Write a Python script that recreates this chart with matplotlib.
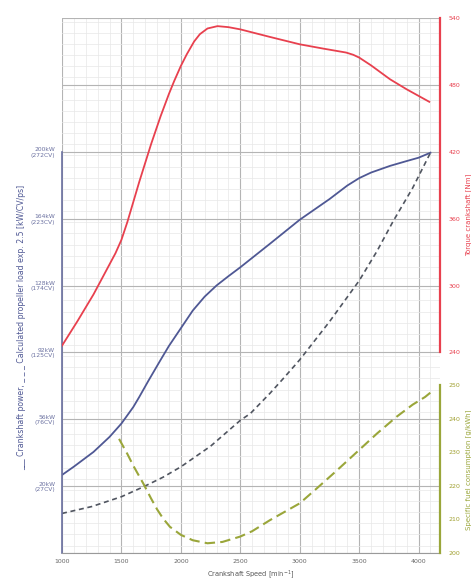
import numpy as np
import matplotlib
matplotlib.use("Agg")
import matplotlib.pyplot as plt
from matplotlib.ticker import MultipleLocator

# crankshaft power [kW]
rpm_power = [1000, 1100, 1265, 1400, 1500, 1600, 1650, 1725, 1830, 1900, 2000, 2100, 2200, 2300, 2400,
             2500, 2750, 3000, 3250, 3400, 3500, 3600, 3760, 3900, 4000, 4100]
power_kw = [26, 30.5, 38.4, 46.5, 53.7, 62.6, 68, 76.5, 88, 95.5, 105, 114.5, 122, 128, 133,
            137.8, 150.5, 163.4, 174.5, 181.8, 185.8, 188.8, 192.4, 195, 196.8, 199.5]

# propeller load exp 2.5 [kW]
rpm_prop = [1000, 1250, 1500, 1684, 1850, 2000, 2250, 2500, 2585, 2750, 2860, 3000, 3250, 3500, 3650, 3785, 3950, 4100]
prop_kw = [5.3, 9.0, 14.3, 19.6, 24.8, 30.4, 41.5, 55.4, 59.1, 70.0, 77.8, 88.0, 108.5, 130.6, 146.5, 162.5, 180.5, 199.5]

# torque [Nm]
rpm_torque = [1000, 1130, 1265, 1400, 1450, 1500, 1550, 1600, 1650, 1700, 1750, 1830, 1900, 1944, 2000, 2050,
              2112, 2160, 2224, 2308, 2400, 2500, 2750, 3000, 3200, 3390, 3450, 3500, 3600, 3760, 3900, 4090]
torque_nm = [246, 268, 292, 319, 329, 341, 357, 375, 393, 410, 427, 452, 472, 483.5, 497, 507.5,
             519, 525.5, 530.6, 532.7, 531.8, 529.8, 523, 516.4, 512.5, 509, 507, 504.5, 497.5, 485, 476, 464.8]

# specific fuel consumption [g/kWh]
rpm_fuel = [1480, 1550, 1600, 1684, 1750, 1800, 1850, 1908, 2000, 2100, 2224, 2350, 2500, 2600, 2750,
            2875, 3000, 3145, 3300, 3500, 3650, 3815, 3950, 4055, 4100]
fuel_gkwh = [234, 229.5, 226, 220.7, 216.2, 213, 210.3, 207.8, 205.4, 203.8, 202.9, 203.3, 204.9, 206.5, 209.8,
             212.3, 214.8, 219.3, 224.2, 230.7, 235.6, 240.6, 244.2, 246.5, 247.8]

kw_ticks = [20, 56, 92, 128, 164, 200]
cv_ticks = [27, 76, 125, 174, 223, 272]
torque_ticks = [240, 300, 360, 420, 480, 540]
fuel_ticks = [200, 210, 220, 230, 240, 250]
rpm_ticks = [1000, 1500, 2000, 2500, 3000, 3500, 4000]

RED = "#e8404e"
BLUE = "#4f5894"
OLIVE = "#9aa63a"
DASH = "#505560"

fig = plt.figure(figsize=(4.71, 5.80), dpi=100)
ax = fig.add_axes([62 / 471, 27 / 580, 378 / 471, 535 / 580])
ax.set_xlim(1000, 4180)
ax.set_ylim(-16, 272)

# grid
ax.set_xticks(rpm_ticks)
ax.xaxis.set_minor_locator(MultipleLocator(100))
ax.set_yticks(np.arange(-16, 273, 36))
ax.yaxis.set_minor_locator(MultipleLocator(6))
ax.grid(True, which="major", color="#b4b4b4", lw=0.8)
ax.grid(True, which="minor", color="#e8e8e8", lw=0.5)
ax.set_axisbelow(True)

ax.set_xticklabels([str(r) for r in rpm_ticks], fontsize=4.5, color="#666666")
ylabels = []
for t in np.arange(-16, 273, 36):
    if t in kw_ticks:
        i = kw_ticks.index(t)
        ylabels.append("%dkW\n(%dCV)" % (kw_ticks[i], cv_ticks[i]))
    else:
        ylabels.append("")
ax.set_yticklabels(ylabels, fontsize=4.3, color="#6a70a0", linespacing=1.1)
ax.tick_params(axis="both", which="both", length=0)
ax.tick_params(axis="x", pad=4)
ax.tick_params(axis="y", pad=5)

for s in ["top", "right"]:
    ax.spines[s].set_visible(False)
ax.spines["left"].set_color("#6a70a0")
ax.spines["left"].set_bounds(-16, 200)
ax.spines["left"].set_linewidth(1.2)
ax.spines["bottom"].set_color("#9a9a9a")

ax.plot(rpm_power, power_kw, color=BLUE, lw=1.3, solid_joinstyle="round")
ax.plot(rpm_prop, prop_kw, color=DASH, lw=1.2, dashes=(3, 2.2))

# torque axis
ax_t = ax.twinx()
ax_t.set_ylim(60, 540)
ax_t.set_yticks(torque_ticks)
ax_t.set_yticklabels([str(t) for t in torque_ticks], fontsize=4.5, color=RED)
ax_t.tick_params(axis="y", length=0, pad=6)
for s in ["top", "left", "bottom"]:
    ax_t.spines[s].set_visible(False)
ax_t.spines["right"].set_color(RED)
ax_t.spines["right"].set_linewidth(1.6)
ax_t.spines["right"].set_bounds(240, 540)
ax_t.plot(rpm_torque, torque_nm, color=RED, lw=1.3, solid_joinstyle="round")

# fuel axis
ax_f = ax.twinx()
ax_f.set_ylim(200, 359.4)
ax_f.set_yticks(fuel_ticks)
ax_f.set_yticklabels([str(t) for t in fuel_ticks], fontsize=4.5, color="#a0a030")
ax_f.tick_params(axis="y", length=0, pad=6)
for s in ["top", "left", "bottom"]:
    ax_f.spines[s].set_visible(False)
ax_f.spines["right"].set_color(OLIVE)
ax_f.spines["right"].set_linewidth(1.6)
ax_f.spines["right"].set_bounds(200, 250)
ax_f.plot(rpm_fuel, fuel_gkwh, color=OLIVE, lw=1.5, dashes=(5, 2.5))

fig.text(251 / 471, 1 - 575 / 580, "Crankshaft Speed [min$^{-1}$]", fontsize=4.8,
         color="#555555", ha="center", va="center")
fig.text(22 / 471, 1 - 327 / 580,
         "___ Crankshaft power, _ _ _ Calculated propeller load exp. 2.5 [kW/CV/ps]",
         fontsize=5.6, color="#4f5894", rotation=90, ha="center", va="center")
fig.text(469 / 471, 1 - 215 / 580, "Torque crankshaft [Nm]", fontsize=5,
         color=RED, rotation=90, ha="center", va="center")
fig.text(469 / 471, 1 - 470 / 580, "Specific fuel consumption [g/kWh]", fontsize=5,
         color=OLIVE, rotation=90, ha="center", va="center")

fig.savefig("out.png", dpi=100)
